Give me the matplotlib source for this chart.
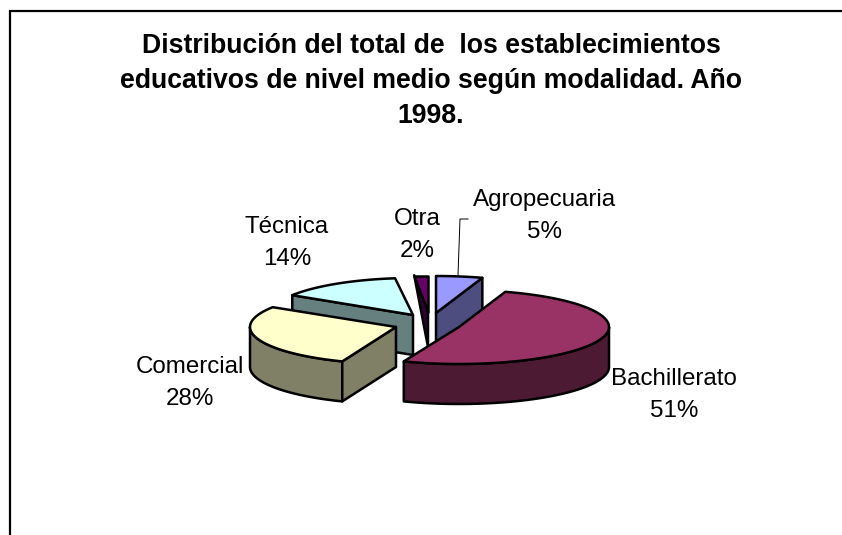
#!/usr/bin/env python

import numpy as np
import matplotlib
matplotlib.use("Agg")
import matplotlib.pyplot as plt
from matplotlib.patches import Polygon

plt.rcParams['font.family'] = ['Liberation Sans', 'DejaVu Sans']

categories = ["Agropecuaria", "Bachillerato", "Comercial", "Técnica", "Otra"]
values = [5, 51, 28, 14, 2]
title = "Distribución del total de  los establecimientos\neducativos de nivel medio según modalidad. Año\n1998."

top_colors = ["#9999FF", "#993366", "#FFFFCC", "#CCFFFF", "#660066"]
wall_colors = ["#4D4D80", "#4D1A33", "#808066", "#668080", "#330033"]

# exploded centres of the slices, in pixels
centers = [(436, 313), (459, 327), (396, 327), (413, 315), (428, 312)]
radii_x = [150, 150, 146, 143, 150]
label_pos = [(545, 216), (674, 395), (190, 383), (287, 243), (417, 235)]
RY = 37
DEPTH = 40


def rim(c, rx, a):
    a = np.radians(a)
    return np.column_stack([c[0] + rx * np.sin(a), c[1] - RY * np.cos(a)])


fig = plt.figure(figsize=(8.42, 5.35), dpi=100)
ax = fig.add_axes([0, 0, 1, 1])
ax.set_xlim(0, 842)
ax.set_ylim(535, 0)
ax.axis("off")

# chart frame
ax.plot([10, 10, 842], [535, 11.2, 11.2], color="black", lw=1.6, solid_joinstyle="miter")

angles = np.cumsum([0] + values) * 3.6
edge = dict(edgecolor="black", lw=1.8, joinstyle="round")

# back to front
for i in [0, 4, 3, 2, 1]:
    c = centers[i]
    rx = radii_x[i]
    a0, a1 = angles[i], angles[i + 1]
    arc = rim(c, rx, np.linspace(a0, a1, 80))
    down = np.array([0, DEPTH])

    # outer wall, only the part facing the viewer
    lo, hi = max(a0, 90), min(a1, 270)
    if lo < hi:
        front = rim(c, rx, np.linspace(lo, hi, 60))
        ax.add_patch(Polygon(np.vstack([front, (front + down)[::-1]]),
                             facecolor=wall_colors[i], **edge))

    # cut wall
    if i == 4:
        p = rim(c, rx, [a0])[0]
        p = (p[0] + 5, p[1])
        ax.add_patch(Polygon([p, c, (c[0], c[1] + 35)], facecolor=wall_colors[i], **edge))
    elif i != 1:
        a_cut = a1 if i == 0 else a0
        p = rim(c, rx, [a_cut])[0]
        ax.add_patch(Polygon([c, p, p + down, np.array(c) + down],
                             facecolor=wall_colors[i], **edge))

    # top face
    if i == 4:
        top = [(c[0] - 14, c[1] - 36), (c[0], c[1] - 36), c]
    else:
        top = np.vstack([[c], arc])
    ax.add_patch(Polygon(top, facecolor=top_colors[i], **edge))

# leader line for the first label
ax.plot([468, 460, 458], [219, 219, 275], color="black", lw=0.7)

for name, v, pos in zip(categories, values, label_pos):
    ax.text(pos[0], pos[1], f"{name}\n{v}%", ha="center", va="center",
            fontsize=17.4, linespacing=1.55, color="black")

ax.text(431, 81, title, ha="center", va="center", fontsize=19.2,
        fontweight="bold", linespacing=1.45, color="black")

fig.savefig("out.png", dpi=100)
